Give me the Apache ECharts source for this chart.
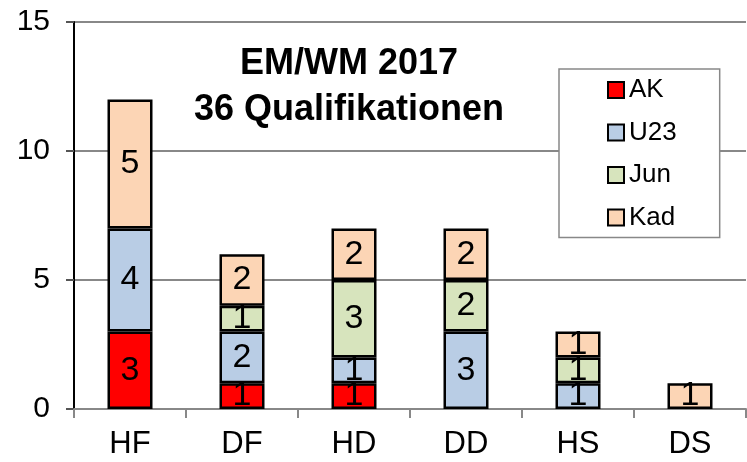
<!DOCTYPE html>
<html>
<head>
<meta charset="utf-8">
<script src="https://cdn.jsdelivr.net/npm/echarts@6/dist/echarts.min.js"></script>
<style>
  html, body { margin: 0; padding: 0; background: #fff; }
  #chart { width: 747px; height: 462px; }
</style>
</head>
<body>
<div id="chart"></div>
<script>
	var categories = ['HF', 'DF', 'HD', 'DD', 'HS', 'DS'];
	var seriesNames = ['AK', 'U23', 'Jun', 'Kad'];
	var akValues = [3, 1, 1, 0, 0, 0];
	var u23Values = [4, 2, 1, 3, 1, 0];
	var junValues = [0, 1, 3, 2, 1, 0];
	var kadValues = [5, 2, 2, 2, 1, 1];
	var colors = ['#FF0000', '#B9CDE5', '#D7E4BD', '#FCD5B5'];

	var allValues = [akValues, u23Values, junValues, kadValues];
	var myChart = echarts.init(document.getElementById('chart'));

	var series = [];
	for (var i = 0; i < seriesNames.length; i++) {
		series.push({
			name: seriesNames[i],
			type: 'bar',
			stack: 'total',
			barWidth: 45,
			// zero segments are left out so no empty box is drawn
			data: allValues[i].map(function (v) { return v === 0 ? null : v; }),
			itemStyle: { color: colors[i], borderColor: '#000', borderWidth: 2.5 },
			label: {
				show: true,
				position: 'inside',
				color: '#000',
				fontSize: 34,
				fontFamily: 'Liberation Sans'
			}
		});
	}

	var option = {
		animation: false,
		title: {
			text: 'EM/WM 2017\n36 Qualifikationen',
			left: 344,
			top: 36,
			textAlign: 'center',
			textStyle: {
				fontFamily: 'Liberation Sans',
				fontSize: 36,
				fontWeight: 'bold',
				color: '#000',
				lineHeight: 46
			}
		},
		legend: {
			orient: 'vertical',
			left: 559,
			top: 69,
			padding: [8, 43, 7, 48],
			itemGap: 16.5,
			itemWidth: 16,
			itemHeight: 16,
			borderColor: '#888',
			borderWidth: 1.5,
			backgroundColor: '#fff',
			align: 'left',
			icon: 'rect',
			itemStyle: { borderColor: '#000', borderWidth: 2 },
			textStyle: { fontFamily: 'Liberation Sans', fontSize: 26, color: '#000' },
			data: seriesNames
		},
		grid: { left: 74, right: 1, top: 22, bottom: 53, containLabel: false },
		xAxis: {
			type: 'category',
			data: categories,
			axisLine: { lineStyle: { color: '#888', width: 2 } },
			axisTick: { show: true, length: 9, lineStyle: { color: '#888', width: 2 } },
			axisLabel: { fontFamily: 'Liberation Sans', fontSize: 31, color: '#000', margin: 20 }
		},
		yAxis: {
			type: 'value',
			min: 0,
			max: 15,
			interval: 5,
			axisLine: { show: true, lineStyle: { color: '#000', width: 2 } },
			axisTick: { show: true, length: 8, lineStyle: { color: '#555', width: 2 } },
			splitLine: { lineStyle: { color: '#888', width: 2 } },
			axisLabel: { fontFamily: 'Liberation Sans', fontSize: 30, color: '#000', margin: 24 }
		},
		series: series
	};
	myChart.setOption(option);
</script>
</body>
</html>
